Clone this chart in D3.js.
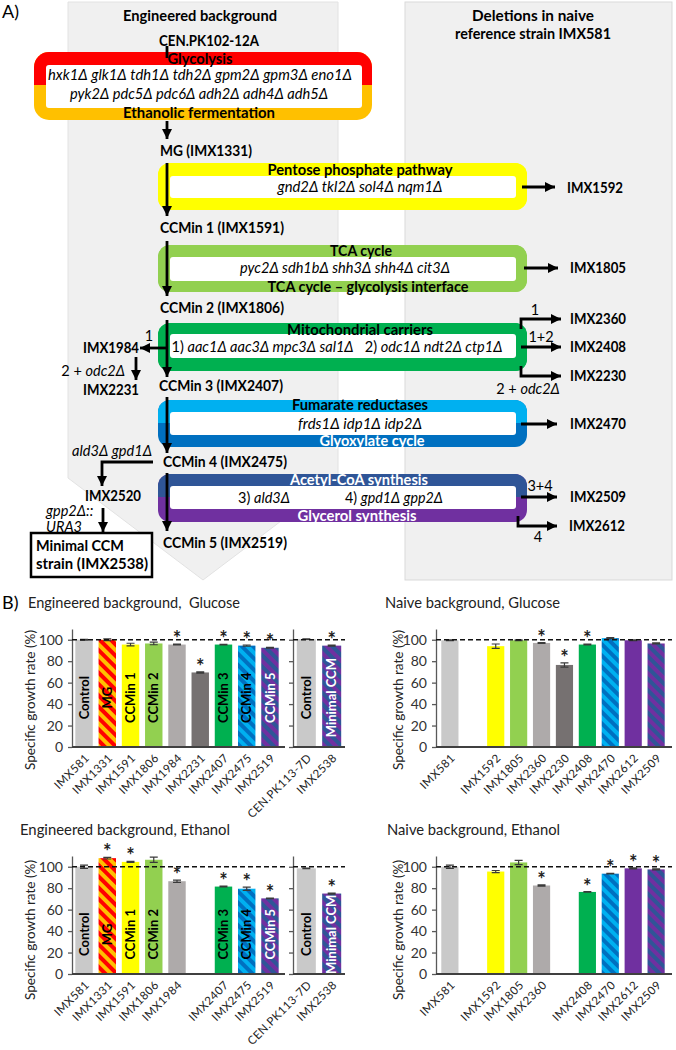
<!DOCTYPE html>
<html><head><meta charset="utf-8">
<script src="https://cdn.jsdelivr.net/npm/d3@7"></script>
<style>body{margin:0;background:#fff} text{font-family:Lato,"Open Sans",sans-serif}</style>
</head><body><script>
// ---------------- DATA ----------------
const engCats = ["IMX581","IMX1331","IMX1591","IMX1806","IMX1984","IMX2231","IMX2407","IMX2475","IMX2519"];
const engBarLabels = ["Control","MG","CCMin 1","CCMin 2","","","CCMin 3","CCMin 4","CCMin 5"];
const engGluValues = [100,100,95.5,96.5,95.5,69.5,95.5,94.5,92.5];
const engGluErrors = [0.4,0.8,1.2,1.2,0.4,0.6,0.3,0.6,0.4];
const engGluSignif = [0,0,0,0,1,1,1,1,1];
const engEthValues = [100,108,104.5,106.5,86.5,null,81.5,79.5,70.5];
const engEthErrors = [1.5,0.8,0.4,2.5,1,0,0.4,1.5,0.3];
const engEthSignif = [0,1,1,0,1,0,1,1,1];
const refCats = ["CEN.PK113-7D","IMX2538"];
const refBarLabels = ["Control","Minimal CCM"];
const refGluValues = [100.5,94.5];
const refGluErrors = [0.3,0.4];
const refGluSignif = [0,1];
const refEthValues = [98.5,75];
const refEthErrors = [0.3,0.5];
const refEthSignif = [0,1];
const naiveCats = ["IMX581","","IMX1592","IMX1805","IMX2360","IMX2230","IMX2408","IMX2470","IMX2612","IMX2509"];
const naiveGluValues = [99.5,null,94,99.5,97,76.5,95.5,101.5,99.5,96.5];
const naiveGluErrors = [0.3,0,2,0.4,0.4,2,0.4,0.5,0.3,0.5];
const naiveGluSignif = [0,0,0,0,1,1,1,0,0,0];
const naiveEthValues = [100,null,95.5,104,82.5,null,76.5,93.5,98.5,97.5];
const naiveEthErrors = [1.5,0,1,2,0.5,0,0.3,0.3,0.5,0.5];
const naiveEthSignif = [0,0,0,0,1,0,1,1,1,1];
const yTickValues = [0,20,40,60,80,100];
const yDomain = [0,110];

// ---------------- STYLE ----------------
const strainFill = {"IMX581":"#C9C9C9","CEN.PK113-7D":"#C9C9C9","IMX1331":"url(#pMG)","IMX1591":"#FFFF00","IMX1592":"#FFFF00",
 "IMX1806":"#92D050","IMX1805":"#92D050","IMX1984":"#AEAAAA","IMX2360":"#AEAAAA","IMX2231":"#767171","IMX2230":"#767171",
 "IMX2407":"#00B050","IMX2408":"#00B050","IMX2475":"url(#pBlue)","IMX2470":"url(#pBlue)","IMX2519":"url(#pPurple)",
 "IMX2509":"url(#pPurple)","IMX2538":"url(#pPurple)","IMX2612":"#7030A0"};
const whiteLabels = new Set(["CCMin 5","Minimal CCM"]);

const svg = d3.select("body").append("svg").attr("width",676).attr("height",1050);
const defs = svg.append("defs");
defs.append("marker").attr("id","ah").attr("viewBox","0 0 10 10").attr("refX",10).attr("refY",5)
  .attr("markerWidth",10).attr("markerHeight",10).attr("markerUnits","userSpaceOnUse").attr("orient","auto")
  .append("path").attr("d","M0,0L10,5L0,10z").attr("fill","#000");
function stripe(id,c1,c2){
  const p=defs.append("pattern").attr("id",id).attr("patternUnits","userSpaceOnUse").attr("width",8).attr("height",8).attr("patternTransform","rotate(-45)");
  p.append("rect").attr("width",8).attr("height",8).attr("fill",c1);
  p.append("rect").attr("width",4).attr("height",8).attr("fill",c2);
}
stripe("pMG","#FFC000","#FF0000");
stripe("pBlue","#00B0F0","#0070C0");
stripe("pPurple","#7030A0","#2F5597");

// ---------------- PANEL A ----------------
svg.append("path").attr("d","M68,2H338V478L203,580L68,478Z").attr("fill","#F0F0F0").attr("stroke","#E2E2E2");
svg.append("rect").attr("x",405).attr("y",2).attr("width",267).attr("height",578).attr("fill","#F0F0F0").attr("stroke","#D9D9D9");

function txt(x,y,s,o={}){
  const t=svg.append("text").attr("x",x).attr("y",y).attr("dy","0.35em")
    .attr("font-size",o.size||14.5).attr("font-weight",o.bold?"bold":"normal")
    .attr("font-style",o.italic?"italic":"normal").attr("fill",o.fill||"#000")
    .attr("text-anchor",o.anchor||"start");
  if(o.w) t.attr("textLength",o.w).attr("lengthAdjust","spacingAndGlyphs");
  t.text(s); return t;
}
let cid=0;
function pbox(x0,x1,y0,y1,split,c1,c2,ix0,ix1,iy0,iy1,r){
  const id="clip"+(++cid);
  defs.append("clipPath").attr("id",id).append("rect").attr("x",x0).attr("y",y0).attr("width",x1-x0).attr("height",y1-y0).attr("rx",r||12);
  const g=svg.append("g").attr("clip-path",`url(#${id})`);
  g.append("rect").attr("x",x0).attr("y",y0).attr("width",x1-x0).attr("height",y1-y0).attr("fill",c2);
  g.append("rect").attr("x",x0).attr("y",y0).attr("width",x1-x0).attr("height",split-y0).attr("fill",c1);
  svg.append("rect").attr("x",ix0).attr("y",iy0).attr("width",ix1-ix0).attr("height",iy1-iy0).attr("rx",3).attr("fill","#fff");
}
function line(pts,arrow){
  svg.append("path").attr("d","M"+pts.map(p=>p.join(",")).join("L")).attr("fill","none")
    .attr("stroke","#000").attr("stroke-width",2.8).attr("marker-end",arrow===false?null:"url(#ah)");
}

txt(2,12,"A)",{size:18});
txt(200,16,"Engineered background",{bold:true,anchor:"middle",w:154});
txt(533,16,"Deletions in naive",{bold:true,anchor:"middle",w:122});
txt(533,34,"reference strain IMX581",{bold:true,anchor:"middle",w:156});
txt(209,41,"CEN.PK102-12A",{bold:true,anchor:"middle",w:100});

pbox(34,372,52,120,85,"#FF0000","#FFC000",46,362,65,108,15);
pbox(158,527,163,210,210,"#FFFF00","#FFFF00",170,516,176,198);
pbox(158,527,245,292,292,"#92D050","#92D050",170,516,257,281);
pbox(158,527,323,371,371,"#00B050","#00B050",170,516,334,358);
pbox(158,527,400,447,423,"#00B0F0","#0070C0",170,516,412,435);
pbox(158,527,474,522,497,"#2F5597","#7030A0",170,516,486,509);

txt(200,59,"Glycolysis",{bold:true,anchor:"middle",w:65});
txt(200,75,"hxk1Δ glk1Δ tdh1Δ tdh2Δ gpm2Δ gpm3Δ eno1Δ",{italic:true,anchor:"middle",w:304});
txt(199,94,"pyk2Δ pdc5Δ pdc6Δ adh2Δ adh4Δ adh5Δ",{italic:true,anchor:"middle",w:258});
txt(199,113,"Ethanolic fermentation",{bold:true,anchor:"middle",w:152});

txt(360,170,"Pentose phosphate pathway",{bold:true,anchor:"middle",w:185});
txt(360,187,"gnd2Δ tkl2Δ sol4Δ nqm1Δ",{italic:true,anchor:"middle",w:165});
txt(361,251,"TCA cycle",{bold:true,anchor:"middle",w:62});
txt(345,268,"pyc2Δ sdh1bΔ shh3Δ shh4Δ cit3Δ",{italic:true,anchor:"middle",w:210});
txt(368,287,"TCA cycle – glycolysis interface",{bold:true,anchor:"middle",w:201});
txt(360,330,"Mitochondrial carriers",{bold:true,anchor:"middle",w:146});
const mt=txt(337,347,"",{anchor:"middle",w:331});
mt.append("tspan").text("1) ");
mt.append("tspan").attr("font-style","italic").text("aac1Δ aac3Δ mpc3Δ sal1Δ");
mt.append("tspan").text("\u00a0\u00a0\u00a02) ");
mt.append("tspan").attr("font-style","italic").text("odc1Δ ndt2Δ ctp1Δ");
txt(360,405,"Fumarate reductases",{bold:true,anchor:"middle",w:136});
txt(360,424,"frds1Δ idp1Δ idp2Δ",{italic:true,anchor:"middle",w:124});
txt(372,441,"Glyoxylate cycle",{bold:true,anchor:"middle",fill:"#fff",w:105});
txt(359,480,"Acetyl-CoA synthesis",{bold:true,anchor:"middle",fill:"#fff",w:138});
const g3=txt(238,498,"3) ",{w:52});
g3.append("tspan").attr("font-style","italic").text("ald3Δ");
const g4=txt(345,498,"4) ",{w:98});
g4.append("tspan").attr("font-style","italic").text("gpd1Δ gpp2Δ");
txt(357,516,"Glycerol synthesis",{bold:true,anchor:"middle",fill:"#fff",w:119});

txt(160,151,"MG (IMX1331)",{bold:true,w:92});
txt(160,228,"CCMin 1 (IMX1591)",{bold:true,w:124});
txt(160,308,"CCMin 2 (IMX1806)",{bold:true,w:124});
txt(159,386,"CCMin 3 (IMX2407)",{bold:true,w:124});
txt(163,462,"CCMin 4 (IMX2475)",{bold:true,w:124});
txt(163,543,"CCMin 5 (IMX2519)",{bold:true,w:124});

line([[167,46],[167,58]],false);
line([[167,121],[167,139]]);
line([[167,163],[167,216]]);
line([[167,241],[167,296]]);
line([[167,320],[167,377]]);
line([[167,397],[167,453]]);
line([[167,473],[167,531]]);

line([[167,348],[140,348]]);
txt(149,336,"1",{anchor:"middle"});
txt(139,348,"IMX1984",{bold:true,anchor:"end",w:56});
const od=txt(125,371,"2 + ",{anchor:"end"});
od.append("tspan").attr("font-style","italic").text("odc2Δ");
line([[136,357],[136,380]]);
txt(83,390,"IMX2231",{bold:true,w:56});

txt(152,451,"ald3Δ gpd1Δ",{italic:true,anchor:"end",w:80});
line([[153,462],[102,462],[102,486]]);
txt(85,496,"IMX2520",{bold:true,w:56});
txt(46,511,"gpp2Δ::",{italic:true});
txt(46,527,"URA3",{italic:true});
line([[103,508],[103,532]]);
svg.append("rect").attr("x",31).attr("y",533).attr("width",121).attr("height",44).attr("fill","#fff").attr("stroke","#000").attr("stroke-width",2.5);
txt(36,546,"Minimal CCM",{bold:true,w:88});
txt(36,564,"strain (IMX2538)",{bold:true,w:112});

line([[522,187],[555,187]]); txt(567,188,"IMX1592",{bold:true,w:56});
line([[524,268],[558,268]]); txt(570,268,"IMX1805",{bold:true,w:56});
line([[521,329],[521,319],[561,319]]); txt(535,310,"1",{anchor:"middle"}); txt(570,319,"IMX2360",{bold:true,w:56});
line([[521,347],[561,347]]); txt(541,337,"1+2",{anchor:"middle"}); txt(570,347,"IMX2408",{bold:true,w:56});
line([[521,366],[521,376],[561,376]]); txt(570,376,"IMX2230",{bold:true,w:56});
const od2=txt(528,389,"2 + ",{anchor:"middle"}); od2.append("tspan").attr("font-style","italic").text("odc2Δ");
line([[521,424],[557,424]]); txt(570,424,"IMX2470",{bold:true,w:56});
line([[521,497],[557,497]]); txt(540,486,"3+4",{anchor:"middle"}); txt(570,497,"IMX2509",{bold:true,w:56});
line([[518,516],[518,526],[557,526]]); txt(538,537,"4",{anchor:"middle"}); txt(569,526,"IMX2612",{bold:true,w:56});

// ---------------- PANEL B ----------------
txt(2,603,"B)",{size:18});

function chart(o){
  const y=d3.scaleLinear().domain(yDomain).range([o.yBot,o.yTop]);
  txt(o.titleX,o.titleY,o.title,{size:15,fill:"#222",w:o.titleW});
  svg.append("text").attr("transform",`translate(${o.yLabelX},${o.yLabelY}) rotate(-90)`)
    .attr("text-anchor","middle").attr("dy","0.35em").attr("font-size",14).attr("fill","#222")
    .attr("textLength",140).attr("lengthAdjust","spacingAndGlyphs")
    .text("Specific growth rate (%)");
  o.panels.forEach(p=>{
    const x=d3.scaleBand().domain(d3.range(p.cats.length)).range([p.r0,p.r1]).paddingInner(0.25).paddingOuter(p.po||0.1);
    const ax=d3.axisLeft(y).tickValues(yTickValues).tickSize(4).tickSizeOuter(0).tickPadding(5)
      .tickFormat(p.labels?d3.format("d"):()=>"");
    const g=svg.append("g").attr("transform",`translate(${p.ax0},0)`).call(ax);
    g.selectAll("text").attr("font-size",14).attr("fill","#333").attr("font-family","Lato");
    g.selectAll("line,path").attr("stroke","#595959").attr("stroke-width",1.3);
    const bw=x.bandwidth();
    p.cats.forEach((c,i)=>{
      const v=p.vals[i]; if(v==null) return;
      const cx=x(i)+bw/2;
      svg.append("rect").attr("x",x(i)).attr("y",y(v)).attr("width",bw).attr("height",y(0)-y(v)).attr("fill",strainFill[c]);
      const e=p.errs[i];
      svg.append("path").attr("d",`M${cx-4},${y(v+e)}H${cx+4}M${cx},${y(v+e)}V${y(v-e)}M${cx-4},${y(v-e)}H${cx+4}`)
        .attr("stroke","#3a3a3a").attr("stroke-width",1.2).attr("fill","none");
      if(p.sig[i]) svg.append("text").attr("x",cx).attr("y",y(v+e)+2).attr("text-anchor","middle")
        .attr("font-size",20).attr("font-weight","bold").attr("fill","#222").text("*");
      const bl=p.barLabels?p.barLabels[i]:"";
      if(bl) svg.append("text").attr("transform",`translate(${cx},${y(o.labelVal)}) rotate(-90)`)
        .attr("text-anchor","middle").attr("dy","0.36em").attr("font-size",13).attr("font-weight","bold")
        .attr("fill",whiteLabels.has(bl)?"#fff":"#000").text(bl);
      svg.append("text").attr("transform",`translate(${cx+3},${o.yBot+9}) rotate(-45)`)
        .attr("text-anchor","end").attr("dy","0.35em").attr("font-size",11.5).attr("letter-spacing",0.4)
        .attr("fill","#222").text(c);
    });
    svg.append("line").attr("x1",p.ax0).attr("x2",p.ax1).attr("y1",y(100)).attr("y2",y(100))
      .attr("stroke","#111").attr("stroke-width",1.4).attr("stroke-dasharray","5,3");
    svg.append("line").attr("x1",p.ax0).attr("x2",p.ax1).attr("y1",o.yBot).attr("y2",o.yBot)
      .attr("stroke","#404040").attr("stroke-width",2);
  });
}

chart({yTop:629,yBot:747,title:"Engineered background,\u00a0\u00a0Glucose",titleW:212,titleX:28,titleY:603,yLabelX:30,yLabelY:700,labelVal:46,
  panels:[{cats:engCats,vals:engGluValues,errs:engGluErrors,sig:engGluSignif,barLabels:engBarLabels,ax0:72,ax1:285,r0:73,r1:281,labels:true},
          {cats:refCats,vals:refGluValues,errs:refGluErrors,sig:refGluSignif,barLabels:refBarLabels,ax0:293,ax1:345,r0:293,r1:345,po:0.15,labels:false}]});
chart({yTop:629,yBot:747,title:"Naive background, Glucose",titleW:175,titleX:385,titleY:603,yLabelX:398,yLabelY:700,labelVal:46,
  panels:[{cats:naiveCats,vals:naiveGluValues,errs:naiveGluErrors,sig:naiveGluSignif,ax0:436,ax1:672,r0:439,r1:667,labels:true}]});
chart({yTop:856,yBot:974,title:"Engineered background, Ethanol",titleW:210,titleX:20,titleY:830,yLabelX:30,yLabelY:930,labelVal:37,
  panels:[{cats:engCats,vals:engEthValues,errs:engEthErrors,sig:engEthSignif,barLabels:engBarLabels,ax0:72,ax1:285,r0:73,r1:281,labels:true},
          {cats:refCats,vals:refEthValues,errs:refEthErrors,sig:refEthSignif,barLabels:refBarLabels,ax0:293,ax1:345,r0:293,r1:345,po:0.15,labels:false}]});
chart({yTop:856,yBot:974,title:"Naive background, Ethanol",titleW:173,titleX:387,titleY:830,yLabelX:398,yLabelY:930,labelVal:37,
  panels:[{cats:naiveCats,vals:naiveEthValues,errs:naiveEthErrors,sig:naiveEthSignif,ax0:436,ax1:672,r0:439,r1:667,labels:true}]});
</script></body></html>
